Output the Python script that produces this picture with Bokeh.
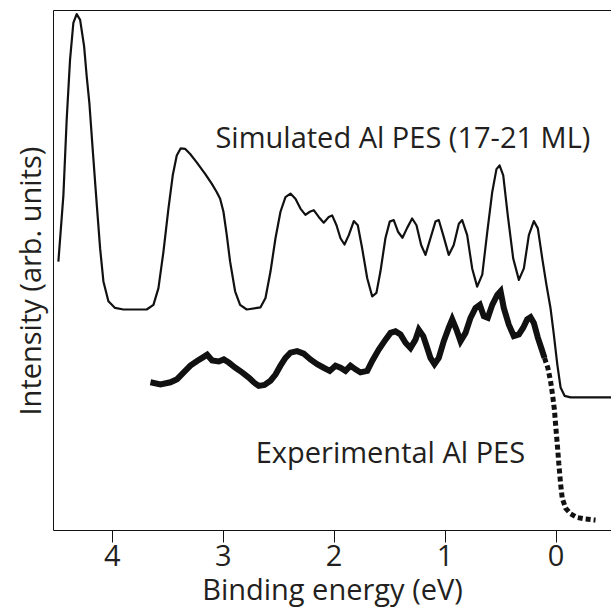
from bokeh.plotting import figure
from bokeh.models import Range1d, FixedTicker, LinearAxis, Label, Title
from bokeh.embed import file_html
from bokeh.resources import INLINE

# Simulated Al PES (17-21 ML): binding energy (eV), intensity (arb. units)
sim_energy = [4.486, 4.441, 4.411, 4.381, 4.351, 4.321, 4.290, 4.254, 4.231, 4.207,
              4.177, 4.146, 4.110, 4.080, 4.035, 3.975, 3.900, 3.690, 3.629, 3.584,
              3.539, 3.494, 3.455, 3.419, 3.383, 3.344, 3.298, 3.239, 3.163, 3.104,
              3.059, 3.028, 2.998, 2.968, 2.938, 2.893, 2.848, 2.788, 2.665, 2.619,
              2.574, 2.529, 2.484, 2.439, 2.394, 2.349, 2.304, 2.259, 2.220, 2.184,
              2.139, 2.094, 2.049, 2.018, 1.979, 1.943, 1.907, 1.868, 1.823, 1.787,
              1.748, 1.702, 1.657, 1.619, 1.583, 1.538, 1.499, 1.463, 1.423, 1.384,
              1.342, 1.297, 1.258, 1.216, 1.177, 1.132, 1.087, 1.057, 1.017, 0.967,
              0.922, 0.876, 0.846, 0.801, 0.756, 0.711, 0.665, 0.620, 0.575, 0.537,
              0.509, 0.476, 0.435, 0.386, 0.335, 0.290, 0.245, 0.200, 0.164, 0.124,
              0.086, 0.050, 0.020, -0.011, -0.041, -0.077, -0.131, -0.600]
sim_intensity = [51.7, 64.4, 79.1, 90.5, 97.6, 99.3, 98.2, 93.1, 87.4, 82.3,
                 73.4, 64.4, 54.3, 47.9, 44.1, 42.8, 42.5, 42.5, 43.4, 46.6,
                 53.6, 61.9, 68.3, 72.1, 73.5, 73.4, 72.4, 70.8, 68.6, 66.7,
                 65.1, 63.8, 61.3, 56.8, 51.7, 46.0, 43.4, 42.5, 42.9, 44.7,
                 49.8, 56.2, 61.3, 64.1, 64.8, 63.8, 61.9, 60.7, 61.3, 61.6,
                 60.3, 59.2, 60.3, 60.6, 58.7, 56.2, 55.0, 56.8, 59.5, 58.7,
                 54.3, 48.5, 45.0, 45.7, 49.8, 56.2, 59.4, 59.7, 57.4, 56.3,
                 58.2, 60.0, 58.7, 54.9, 53.0, 56.2, 59.4, 59.7, 56.8, 53.0,
                 54.9, 59.0, 59.7, 56.8, 50.4, 46.9, 49.2, 57.4, 65.1, 69.5,
                 70.2, 68.3, 60.6, 52.3, 48.2, 50.4, 56.8, 59.5, 58.1, 52.3,
                 47.2, 42.8, 37.7, 32.0, 27.5, 25.9, 25.6, 25.6]

# Experimental Al PES (valence band region)
exp_energy = [3.656, 3.566, 3.476, 3.416, 3.356, 3.296, 3.236, 3.190, 3.145, 3.100,
              3.040, 2.995, 2.950, 2.890, 2.830, 2.770, 2.725, 2.680, 2.628, 2.574,
              2.529, 2.484, 2.439, 2.394, 2.334, 2.274, 2.214, 2.153, 2.094, 2.040,
              1.988, 1.943, 1.898, 1.853, 1.808, 1.763, 1.702, 1.657, 1.598, 1.537,
              1.492, 1.447, 1.402, 1.357, 1.312, 1.267, 1.237, 1.197, 1.161, 1.132,
              1.096, 1.057, 1.012, 0.967, 0.936, 0.897, 0.861, 0.816, 0.771, 0.726,
              0.687, 0.651, 0.615, 0.575, 0.530, 0.500, 0.471, 0.426, 0.381, 0.335,
              0.296, 0.260, 0.230, 0.200, 0.164, 0.133, 0.104]
exp_intensity = [28.5, 28.1, 28.5, 29.1, 30.4, 31.7, 32.6, 33.2, 33.8, 32.7,
                 32.5, 32.9, 32.3, 31.3, 30.4, 29.4, 28.5, 27.8, 28.0, 28.8,
                 30.0, 31.7, 33.2, 34.2, 34.5, 34.0, 32.9, 32.0, 31.3, 30.7,
                 31.7, 31.3, 30.7, 31.7, 31.0, 30.4, 30.7, 32.6, 34.8, 36.7,
                 38.0, 38.3, 37.7, 36.1, 35.1, 36.7, 38.6, 37.4, 35.1, 33.2,
                 32.0, 33.2, 36.4, 39.0, 40.6, 38.6, 36.4, 38.0, 40.9, 42.8,
                 43.4, 41.2, 40.9, 43.4, 45.3, 46.0, 42.8, 39.6, 37.4, 37.7,
                 39.0, 40.6, 41.0, 39.9, 37.1, 35.1, 33.2]
# Experimental Al PES (Fermi edge region)
edge_energy = [0.104, 0.074, 0.050, 0.032, 0.014, 0.002, -0.011, -0.025, -0.041,
               -0.056, -0.086, -0.131, -0.191, -0.266, -0.356]
edge_intensity = [33.2, 31.3, 28.8, 26.2, 23.1, 19.9, 16.7, 12.9, 9.0,
                  6.2, 4.3, 3.2, 2.5, 2.2, 2.0]

x_ticks = [4, 3, 2, 1, 0]
FONT = "Open Sans"
TXT = "#231f20"
INK = "#111111"

p = figure(width=611, height=610, output_backend="svg", toolbar_location=None,
           x_range=Range1d(4.53, -0.50), y_range=Range1d(0, 100),
           min_border_left=53, min_border_right=0, min_border_top=10, min_border_bottom=76)
p.outline_line_color = None
p.xgrid.visible = False
p.ygrid.visible = False
p.background_fill_color = "white"
p.border_fill_color = "white"

xa = p.xaxis[0]
xa.ticker = FixedTicker(ticks=x_ticks)
xa.axis_label = "Binding energy (eV)"
xa.major_tick_in = 0
xa.major_tick_out = 12
xa.minor_tick_out = 0
xa.minor_tick_in = 0
xa.major_label_text_font = FONT
xa.major_label_text_font_size = "29px"
xa.major_label_text_color = TXT
xa.axis_label_text_font = FONT
xa.axis_label_text_font_size = "29px"
xa.axis_label_text_font_style = "normal"
xa.axis_label_text_color = TXT
xa.axis_label_standoff = 0
xa.major_label_standoff = 2
xa.axis_line_color = INK
xa.major_tick_line_color = INK

ya = p.yaxis[0]
ya.ticker = FixedTicker(ticks=[])
ya.major_tick_out = 0
ya.major_tick_in = 0
ya.minor_tick_out = 0
ya.minor_tick_in = 0
ya.major_label_text_font_size = "0px"
ya.axis_line_color = INK

top = LinearAxis(ticker=FixedTicker(ticks=[]), major_label_text_font_size="0px",
                 major_tick_out=0, major_tick_in=0, minor_tick_out=0, minor_tick_in=0,
                 axis_line_color=INK)
p.add_layout(top, "above")

ytitle = Title(text="Intensity (arb. units)", text_font=FONT, text_font_size="29px",
               text_font_style="normal", text_color=TXT, align="left", offset=115,
               vertical_align="middle", standoff=8)
p.add_layout(ytitle, "left")

p.line(sim_energy, sim_intensity, line_color=INK, line_width=2.2, line_join="round")
p.line(exp_energy, exp_intensity, line_color=INK, line_width=6, line_join="miter")
p.line(edge_energy, edge_intensity, line_color=INK, line_width=5, line_dash="5 3")

p.add_layout(Label(x=3.07, y=75.8, text="Simulated Al PES (17-21 ML)", text_font=FONT,
                   text_font_size="29px", text_color=TXT, text_align="left",
                   text_baseline="alphabetic"))
p.add_layout(Label(x=2.707, y=15.1, text="Experimental Al PES", text_font=FONT,
                   text_font_size="29px", text_color=TXT, text_align="left",
                   text_baseline="alphabetic"))

open("out.html", "w").write(file_html(p, INLINE))
